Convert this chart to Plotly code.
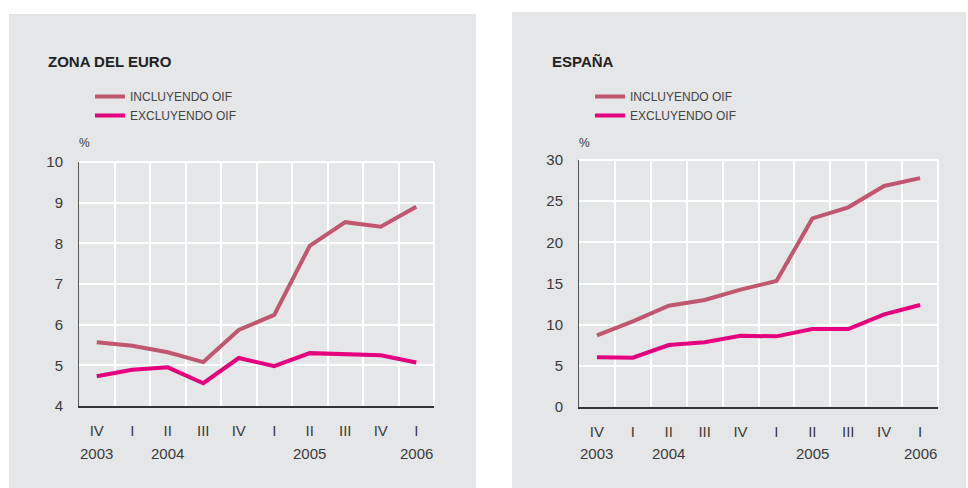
import plotly.graph_objects as go

# ---------------- data ----------------
quarters = ["IV", "I", "II", "III", "IV", "I", "II", "III", "IV", "I"]
years = ["2003", "", "2004", "", "", "", "2005", "", "", "2006"]
series_names = ["INCLUYENDO OIF", "EXCLUYENDO OIF"]

euro_incl = [5.57, 5.48, 5.32, 5.08, 5.87, 6.24, 7.94, 8.52, 8.41, 8.90]
euro_excl = [4.73, 4.89, 4.95, 4.56, 5.18, 4.98, 5.30, 5.28, 5.25, 5.07]

esp_incl = [8.7, 10.4, 12.3, 13.0, 14.25, 15.3, 22.9, 24.25, 26.85, 27.8]
esp_excl = [6.03, 5.99, 7.53, 7.86, 8.66, 8.58, 9.47, 9.47, 11.26, 12.39]

titles = ["ZONA DEL EURO", "ESPAÑA"]

# ---------------- style ----------------
W, H = 968, 488
C_INCL = "#C0566F"
C_EXCL = "#E5007D"
BG = "#E5E6E8"
TXT = "#3a3a3a"
FONT = "Liberation Sans, Arial, sans-serif"

def px(x):
    return x / W

def py(y):
    return 1 - y / H

xs = list(range(len(quarters)))

fig = go.Figure()

panels = [
    dict(xa="x", ya="y", xk="xaxis", yk="yaxis", legend="legend",
         incl=euro_incl, excl=euro_excl,
         dom_x=[px(79), px(434)], dom_y=[py(406), py(162)],
         yrange=[4, 10], dtick=1,
         box=(9, 14, 476, 488), title_x=46, leg_x=90, pct_x=77),
    dict(xa="x2", ya="y2", xk="xaxis2", yk="yaxis2", legend="legend2",
         incl=esp_incl, excl=esp_excl,
         dom_x=[px(579), px(938)], dom_y=[py(407), py(160)],
         yrange=[0, 30], dtick=5,
         box=(512, 12, 966, 488), title_x=550, leg_x=590, pct_x=577),
]

shapes = []
annotations = []

for i, p in enumerate(panels):
    for name, vals, col in [(series_names[0], p["incl"], C_INCL),
                            (series_names[1], p["excl"], C_EXCL)]:
        fig.add_trace(go.Scatter(
            x=xs, y=vals, mode="lines", name=name,
            line=dict(color=col, width=4),
            xaxis=p["xa"], yaxis=p["ya"], legend=p["legend"],
            hoverinfo="skip"))

    fig.layout[p["xk"]] = dict(
        domain=p["dom_x"], range=[-0.5, len(quarters) - 0.5],
        anchor=p["ya"], tickmode="array", tickvals=xs, ticktext=quarters,
        showgrid=False, zeroline=False, automargin=False,
        showline=True, linecolor="#333333", linewidth=1.5,
        ticks="", ticklabelstandoff=10,
        tickfont=dict(family=FONT, size=15, color=TXT),
        minor=dict(tickmode="linear", tick0=0.5, dtick=1, showgrid=True,
                   gridcolor="white", gridwidth=2, ticks=""),
        fixedrange=True)
    fig.layout[p["yk"]] = dict(
        domain=p["dom_y"], range=p["yrange"], anchor=p["xa"],
        dtick=p["dtick"], tick0=0, showgrid=True, gridcolor="white",
        gridwidth=2, zeroline=False, showline=True, linecolor="#555555",
        linewidth=1, ticks="", ticklabelstandoff=12, automargin=False,
        tickfont=dict(family=FONT, size=15, color=TXT),
        fixedrange=True)

    # panel background
    x0, y0, x1, y1 = p["box"]
    shapes.append(dict(type="rect", xref="paper", yref="paper",
                       x0=px(x0), x1=px(x1), y0=py(y1), y1=py(y0),
                       fillcolor=BG, line=dict(width=0), layer="below"))
    # white top / right border of plot area
    shapes.append(dict(type="line", xref=p["xa"] + " domain", yref=p["ya"] + " domain",
                       x0=0, x1=1, y0=1, y1=1, line=dict(color="white", width=2)))
    shapes.append(dict(type="line", xref=p["xa"] + " domain", yref=p["ya"] + " domain",
                       x0=1, x1=1, y0=0, y1=1, line=dict(color="white", width=2)))

    # title
    annotations.append(dict(text="<b>" + titles[i] + "</b>", xref="paper", yref="paper",
                            x=px(p["title_x"]), y=py(61), xanchor="left", yanchor="middle",
                            showarrow=False,
                            font=dict(family=FONT, size=15, color="#222222")))
    # percent unit
    annotations.append(dict(text="%", xref="paper", yref="paper",
                            x=px(p["pct_x"]), y=py(143), xanchor="left", yanchor="middle",
                            showarrow=False,
                            font=dict(family=FONT, size=12, color=TXT)))
    # year labels
    for xi, yr in zip(xs, years):
        if yr:
            annotations.append(dict(text=yr, xref=p["xa"], yref="paper",
                                    x=xi, y=py(453), xanchor="center", yanchor="middle",
                                    showarrow=False,
                                    font=dict(family=FONT, size=15, color=TXT)))

    fig.layout[p["legend"]] = dict(
        x=px(p["leg_x"]), y=py(82), xanchor="left", yanchor="top",
        bgcolor="rgba(0,0,0,0)", borderwidth=0,
        font=dict(family=FONT, size=12, color="#444444"),
        tracegroupgap=0, itemclick=False, itemdoubleclick=False)

fig.update_layout(
    width=W, height=H, margin=dict(l=0, r=0, t=0, b=0, autoexpand=False),
    paper_bgcolor="white", plot_bgcolor="rgba(0,0,0,0)",
    showlegend=True, shapes=shapes, annotations=annotations,
)

fig.write_html("out.html", config={"displayModeBar": False},
               post_script="document.body.style.margin='0';")
